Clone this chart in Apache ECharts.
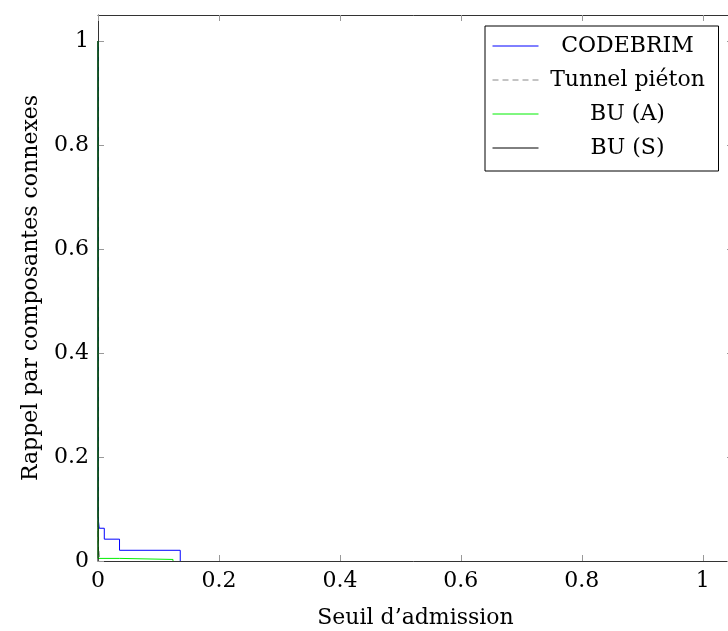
<!DOCTYPE html>
<html><head><meta charset="utf-8">
<script src="https://cdn.jsdelivr.net/npm/echarts@6/dist/echarts.min.js"></script>
<style>html,body{margin:0;padding:0;background:#fff}#c{width:728px;height:631px}</style>
</head><body><div id="c"></div>
<script>
const seriesNames = ['CODEBRIM', 'Tunnel piéton', 'BU (A)', 'BU (S)'];
const codebrimX = [0, 0, 0.002, 0.002, 0.0104, 0.0104, 0.0356, 0.0356, 0.136, 0.136];
const codebrimY = [1, 0.085, 0.085, 0.063, 0.063, 0.042, 0.042, 0.0206, 0.0206, 0];
const tunnelX = [0, 0, 0.003, 0.003];
const tunnelY = [1, 0.04, 0.04, 0];
const buAX = [0, 0, 0.036, 0.036, 0.124, 0.124];
const buAY = [1, 0.005, 0.005, 0.003, 0.003, 0];
const buSX = [0, 0];
const buSY = [1, 0];
const xTicks = [0, 0.2, 0.4, 0.6, 0.8, 1];
const yTicks = [0, 0.2, 0.4, 0.6, 0.8, 1];

const font = 'DejaVu Serif';
const fs = 22;
const zip = (xs, ys) => xs.map((x, i) => [x, ys[i]]);
const colors = ['#0000ff', '#888888', '#00ee00', '#000000'];
const dataSets = [zip(codebrimX, codebrimY), zip(tunnelX, tunnelY), zip(buAX, buAY), zip(buSX, buSY)];
const fmt = v => (v === 0 ? '0' : v === 1 ? '1' : v.toFixed(1));

function axis(extra, ticks, labels) {
  return Object.assign({
    type: 'value', min: 0, max: 1.05,
    axisLine: { show: true, onZero: false, lineStyle: { color: '#333', width: 1 } },
    axisTick: { show: true, inside: true, length: 6, customValues: ticks, lineStyle: { color: '#999', width: 1 } },
    splitLine: { show: false },
    axisLabel: labels ? { show: true, customValues: ticks, fontFamily: font, fontSize: fs, color: '#000', formatter: fmt, margin: 9 } : { show: false }
  }, extra);
}

const chart = echarts.init(document.getElementById('c'), null, { renderer: 'canvas' });
chart.setOption({
  animation: false,
  backgroundColor: '#fff',
  grid: { left: 98, top: 15, right: -5, bottom: 70, containLabel: false, outerBoundsMode: 'none' },
  xAxis: [
    axis({ position: 'bottom', name: 'Seuil d\u2019admission', nameLocation: 'middle', nameGap: 46,
      nameTextStyle: { fontFamily: font, fontSize: fs, color: '#000' } }, xTicks, true),
    axis({ position: 'top' }, xTicks, false)
  ],
  yAxis: [
    axis({ position: 'left', name: 'Rappel par composantes connexes', nameLocation: 'middle', nameGap: 56,
      nameTextStyle: { fontFamily: font, fontSize: fs, color: '#000' } }, yTicks, true),
    axis({ position: 'right' }, yTicks, false)
  ],
  legend: {
    left: 485, top: 26,
    orient: 'vertical',
    backgroundColor: '#fff', borderColor: '#000', borderWidth: 1, borderRadius: 0,
    padding: [9, 7, 12, 7],
    itemWidth: 46, itemHeight: 14, itemGap: 12,
    data: seriesNames,
    itemStyle: { color: 'transparent', borderWidth: 0 },
    lineStyle: { width: 1, opacity: 1 },
    formatter: name => '{t|' + name + '}',
    textStyle: {
      fontFamily: font, fontSize: fs, color: '#000',
      rich: { t: { width: 168, align: 'center', fontFamily: font, fontSize: fs, lineHeight: 22 } }
    }
  },
  series: seriesNames.map((n, i) => ({
    name: n, type: 'line', xAxisIndex: 0, yAxisIndex: 0,
    data: dataSets[i], showSymbol: false, symbol: 'none',
    lineStyle: { color: colors[i], width: 1, type: i === 1 ? [6, 4] : 'solid' },
    itemStyle: { color: colors[i] },
    z: 2 + i
  }))
});
</script></body></html>
